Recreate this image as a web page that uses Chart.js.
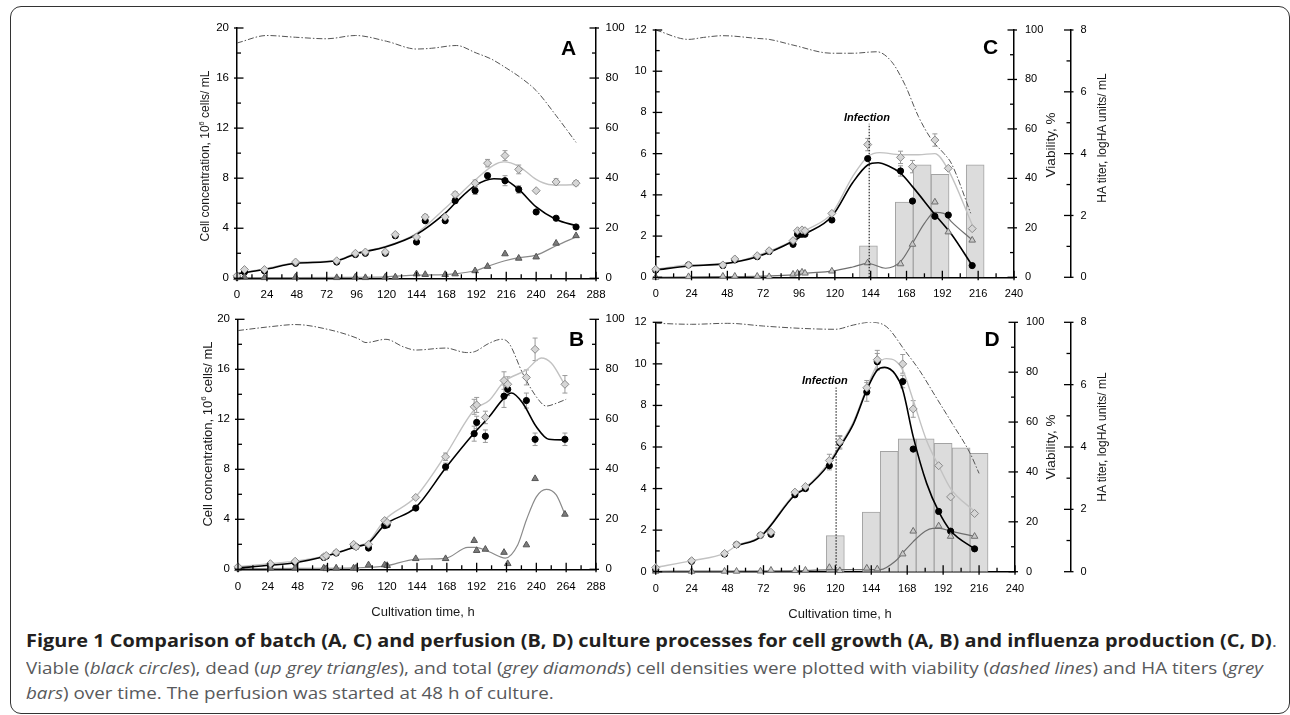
<!DOCTYPE html>
<html><head><meta charset="utf-8">
<script src="https://cdn.jsdelivr.net/npm/chart.js@4.4.1/dist/chart.umd.min.js"></script>
<style>
html,body{margin:0;padding:0;background:#fff;}
#page{position:relative;width:1290px;height:715px;overflow:hidden;background:#fff;font-family:"Liberation Sans",Arial,sans-serif;}
#frame{position:absolute;left:10px;top:6px;width:1280px;height:708px;box-sizing:border-box;border:1.5px solid #333;border-radius:11px;}
canvas{position:absolute;}
.t{position:absolute;white-space:nowrap;line-height:1;color:#1a1a1a;transform:translate(-50%,-50%);}
.rot{transform:translate(-50%,-50%) rotate(-90deg);}
.let{font-weight:bold;font-size:21px;color:#000;}
.cap{position:absolute;left:26px;white-space:nowrap;line-height:1;font-family:"Open Sans","Noto Sans",sans-serif;font-size:17px;transform-origin:0 0;}
sup{font-size:0.62em;line-height:0;position:relative;top:-0.05em;}
</style></head>
<body><div id="page">
<div id="frame"></div>
<canvas id="cA"></canvas><canvas id="cB"></canvas><canvas id="cC"></canvas><canvas id="cD"></canvas>

<div class="t rot" style="left:205px;top:156px;font-size:12px;">Cell concentration, 10<sup>6</sup> cells/ mL</div>
<div class="t rot" style="left:206.5px;top:434px;font-size:13px;">Cell concentration, 10<sup>6</sup> cells/ mL</div>
<div class="t rot" style="left:1050.5px;top:145px;font-size:13.5px;">Viability, %</div>
<div class="t rot" style="left:1101.7px;top:137.5px;font-size:12px;">HA titer, logHA units/ mL</div>
<div class="t rot" style="left:1050.5px;top:447px;font-size:13.5px;">Viability, %</div>
<div class="t rot" style="left:1101.7px;top:437px;font-size:12px;">HA titer, logHA units/ mL</div>
<div class="t" style="left:423px;top:611px;font-size:13px;">Cultivation time, h</div>
<div class="t" style="left:840px;top:612.5px;font-size:13px;">Cultivation time, h</div>
<div class="t let" style="left:568.5px;top:46.5px;">A</div>
<div class="t let" style="left:576.5px;top:337.5px;">B</div>
<div class="t let" style="left:990.5px;top:46px;">C</div>
<div class="t let" style="left:992px;top:337.5px;">D</div>

<div id="cap1" class="cap" style="top:631.9px;"><span style="font-weight:700;color:#231f20;">Figure 1 Comparison of batch (A, C) and perfusion (B, D) culture processes for cell growth (A, B) and influenza production (C, D)</span><span style="color:#58595b;">.</span></div>
<div id="cap2" class="cap" style="top:658.9px;color:#58595b;">Viable (<i>black circles</i>), dead (<i>up grey triangles</i>), and total (<i>grey diamonds</i>) cell densities were plotted with viability (<i>dashed lines</i>) and HA titers (<i>grey</i></div>
<div id="cap3" class="cap" style="top:683.9px;color:#58595b;"><i>bars</i>) over time. The perfusion was started at 48 h of culture.</div>
</div>
<script>
// ---------------- DATA ----------------
// Panel A (batch, cell growth)
const aHours     = [0, 6, 22, 47, 80, 95, 103, 119, 127, 144, 151, 167, 175, 191, 201, 215, 226, 240, 256, 272];
const aTotal     = [0.2, 0.7, 0.7, 1.3, 1.4, 2.0, 2.1, 2.1, 3.5, 3.3, 4.9, 4.9, 6.7, 7.6, 9.2, 9.8, 8.7, 7.0, 7.7, 7.6];
const aTotalErr  = [0, 0, 0, 0, 0, 0, 0, 0, 0, 0, 0.2, 0, 0.2, 0.25, 0.3, 0.4, 0.35, 0, 0.25, 0.2];
const aViable    = [0.1, 0.5, 0.6, 1.2, 1.3, 1.9, 2.0, 2.0, 3.4, 2.9, 4.6, 4.6, 6.2, 7.0, 8.2, 7.8, 7.1, 5.3, 4.8, 4.1];
const aViableErr = [0, 0, 0, 0, 0, 0, 0, 0, 0, 0, 0, 0, 0.2, 0.3, 0.2, 0.4, 0.3, 0, 0, 0];
const aDead      = [0.05, 0.1, 0.05, 0.1, 0.05, 0.1, 0.05, 0.1, 0.1, 0.35, 0.3, 0.3, 0.35, 0.6, 0.95, 1.95, 1.6, 1.7, 2.8, 3.4];
const aFitViableHours = [0, 22, 47, 80, 95, 119, 144, 167, 175, 191, 206, 215, 226, 240, 256, 272];
const aFitViable      = [0.35, 0.7, 1.2, 1.4, 1.95, 2.5, 3.5, 5.2, 6.0, 7.4, 7.95, 7.85, 7.1, 5.7, 4.7, 4.2];
const aFitTotalHours  = [0, 22, 47, 80, 95, 119, 144, 167, 191, 206, 214, 226, 240, 250, 261, 272];
const aFitTotal       = [0.4, 0.75, 1.25, 1.45, 2.0, 2.55, 3.6, 5.6, 7.85, 9.05, 9.3, 8.95, 7.9, 7.5, 7.45, 7.5];
const aFitDeadHours   = [0, 47, 95, 119, 144, 167, 175, 191, 201, 215, 226, 240, 256, 272];
const aFitDead        = [0.05, 0.05, 0.08, 0.12, 0.25, 0.3, 0.35, 0.6, 0.95, 1.4, 1.65, 1.85, 2.6, 3.3];
const aViaHours  = [0, 24, 47, 72, 95, 120, 144, 156, 176, 192, 204, 216, 228, 240, 256, 272];
const aViability = [94, 97, 96.3, 95.7, 97, 94.7, 91.6, 91.9, 93, 90, 87.6, 84, 80, 75, 65, 54.3];

// Panel B (perfusion, cell growth)
const bHours     = [0, 26, 46, 69, 71, 79, 93, 95, 105, 118, 120, 143, 167, 190, 192, 199, 214, 217, 232, 239, 263];
const bTotal     = [0.2, 0.45, 0.65, 1.0, 1.1, 1.35, 2.0, 1.8, 2.0, 3.9, 3.75, 5.75, 9.0, 13.0, 13.15, 12.15, 15.1, 14.8, 15.35, 17.6, 14.8];
const bTotalErr  = [0, 0, 0, 0, 0, 0, 0, 0, 0, 0, 0, 0, 0.3, 0.6, 0.6, 0.5, 0.7, 0.6, 0.6, 0.9, 0.7];
const bViable    = [0.1, 0.35, 0.55, 0.95, 1.05, 1.3, 1.9, 1.8, 1.7, 3.5, 3.55, 4.9, 8.2, 10.85, 11.75, 10.65, 13.85, 14.4, 13.5, 10.4, 10.4];
const bViableErr = [0, 0, 0, 0, 0, 0, 0, 0, 0, 0, 0, 0, 0.3, 0.6, 0.5, 0.5, 0.9, 0.5, 0.6, 0.5, 0.5];
const bDead      = [0.05, 0.1, 0.1, 0.1, 0.05, 0.1, 0.1, 0.1, 0.35, 0.35, 0.3, 0.85, 0.85, 2.3, 1.5, 1.6, 1.35, 0.45, 1.95, 7.25, 4.4];
const bFitViableHours = [0, 26, 46, 69, 95, 105, 118, 143, 167, 190, 202, 214, 220, 229, 240, 250, 263];
const bFitViable      = [0.1, 0.32, 0.53, 1.0, 1.8, 2.1, 3.55, 4.95, 8.1, 10.9, 12.2, 13.7, 14.1, 13.3, 11.4, 10.4, 10.35];
const bFitTotalHours  = [0, 26, 46, 69, 95, 105, 118, 143, 167, 190, 202, 214, 232, 244, 252, 263];
const bFitTotal       = [0.2, 0.45, 0.65, 1.05, 1.85, 2.2, 3.95, 5.8, 9.15, 12.75, 13.5, 15.0, 15.95, 16.9, 16.5, 14.75];
const bFitDeadHours   = [0, 46, 95, 118, 143, 167, 185, 191, 202, 215, 225, 232, 240, 248, 256, 263];
const bFitDead        = [0.05, 0.08, 0.12, 0.25, 0.8, 0.88, 1.75, 1.75, 1.4, 0.9, 1.95, 3.95, 5.8, 6.4, 5.95, 4.4];
const bViaHours  = [0, 27, 46, 72, 96, 103, 119, 133, 143, 167, 184, 190, 202, 212, 218, 229, 240, 248, 256, 264];
const bViability = [95.5, 97.1, 97.9, 96, 92.4, 90.7, 92, 89, 87.7, 88.5, 86.7, 87, 90.4, 92, 90.4, 78.4, 69, 65.3, 66.4, 68];

// Panel C (batch, influenza production)
const cHours     = [0, 22, 45, 53, 68, 76, 92, 95, 98, 100, 118, 142, 164, 172, 187, 196, 212];
const cTotal     = [0.39, 0.6, 0.6, 0.89, 1.05, 1.29, 1.78, 2.26, 2.3, 2.26, 3.1, 6.44, 5.82, 5.37, 6.66, 5.29, 2.36];
const cTotalErr  = [0, 0, 0, 0, 0, 0, 0, 0, 0, 0, 0, 0.3, 0.3, 0.3, 0.3, 0, 0];
const cViable    = [0.35, 0.6, 0.57, 0.84, 1.0, 1.25, 1.6, 2.09, 2.09, 2.09, 2.78, 5.76, 5.16, 3.7, 2.96, 3.02, 0.57];
const cViableErr = [0, 0, 0, 0, 0, 0, 0, 0, 0, 0, 0, 0, 0.25, 0, 0, 0, 0];
const cDead      = [0.0, 0.03, 0.05, 0.05, 0.05, 0.03, 0.15, 0.2, 0.25, 0.2, 0.3, 0.7, 0.65, 1.6, 3.65, 2.2, 1.8];
const cFitViableHours = [0, 22, 45, 68, 92, 100, 118, 132, 142, 149, 156, 164, 172, 187, 198, 212];
const cFitViable      = [0.35, 0.55, 0.65, 1.0, 1.75, 2.1, 2.95, 4.6, 5.45, 5.56, 5.4, 5.05, 4.4, 3.05, 2.1, 0.57];
const cFitTotalHours  = [0, 22, 45, 68, 92, 100, 118, 132, 142, 150, 164, 176, 187, 196, 212];
const cFitTotal       = [0.39, 0.6, 0.65, 1.05, 1.8, 2.25, 3.1, 4.9, 5.85, 6.05, 5.95, 5.95, 6.0, 5.2, 2.55];
const cFitDeadHours   = [0, 45, 92, 100, 118, 132, 142, 154, 164, 172, 180, 187, 193, 198, 212];
const cFitDead        = [0.0, 0.03, 0.12, 0.2, 0.3, 0.5, 0.68, 0.44, 0.76, 1.65, 2.62, 3.15, 3.1, 2.7, 1.81];
const cViaHours  = [0, 22, 32, 45, 68, 76, 92, 118, 132, 148, 158, 167, 176, 185, 193, 198, 211];
const cViability = [100, 96.2, 97, 97.7, 96.6, 96.2, 93.9, 90.6, 90.6, 91.2, 87.2, 77.8, 65, 55.5, 50.1, 46.1, 25.9];
const cBarHours  = [142.5, 166.5, 178.5, 190.5, 214];
const cHaTiter   = [1.02, 2.43, 3.64, 3.33, 3.64];
const cInfection = {hour: 143, top: 7.45, labelHour: 141.5, labelY: 7.75, text: 'Infection'};

// Panel D (perfusion, influenza production)
const dHours     = [0, 24, 46, 54, 70, 77, 93, 100, 116, 123, 141, 148, 165, 172, 189, 197, 213];
const dTotal     = [0.2, 0.53, 0.88, 1.3, 1.76, 1.9, 3.83, 4.1, 5.35, 6.25, 8.85, 10.2, 10.0, 7.83, 5.1, 3.6, 2.8];
const dTotalErr  = [0, 0, 0, 0, 0, 0, 0, 0, 0.3, 0.3, 0.35, 0.45, 0.45, 0.4, 0, 0, 0];
const dViable    = [0.1, 0.5, 0.85, 1.3, 1.75, 1.8, 3.7, 4.0, 5.1, 6.2, 8.65, 10.1, 9.15, 5.9, 2.9, 1.95, 1.1];
const dViableErr = [0, 0, 0, 0, 0, 0, 0, 0, 0.2, 0.3, 0.45, 0.4, 0.3, 0.35, 0, 0, 0];
const dDead      = [0.02, 0.02, 0.02, 0.02, 0.03, 0.07, 0.05, 0.07, 0.2, 0.05, 0.17, 0.13, 0.85, 1.95, 2.2, 1.7, 1.7];
const dFitViableHours = [54, 70, 93, 100, 116, 123, 132, 141, 148, 153, 160, 165, 172, 181, 189, 197, 213];
const dFitViable      = [1.25, 1.68, 3.69, 4.0, 5.2, 6.0, 7.1, 8.75, 9.7, 9.83, 9.5, 8.75, 6.5, 4.25, 2.9, 1.97, 1.1];
const dFitTotalHours  = [0, 24, 46, 54, 70, 93, 100, 116, 123, 132, 141, 148, 154, 160, 165, 172, 181, 189, 197, 213];
const dFitTotal       = [0.2, 0.53, 0.88, 1.25, 1.72, 3.75, 4.05, 5.3, 6.1, 7.2, 8.85, 9.95, 10.25, 10.15, 9.7, 8.25, 6.3, 5.1, 4.0, 2.9];
const dFitDeadHours   = [0, 48, 96, 120, 140, 150, 160, 165, 172, 180, 185, 190, 197, 213];
const dFitDead        = [0.02, 0.03, 0.05, 0.1, 0.1, 0.1, 0.5, 0.9, 1.45, 1.95, 2.08, 2.08, 1.95, 1.7];
const dViaHours  = [0, 24, 48, 72, 96, 120, 132, 143, 154, 167, 176, 187, 198, 210, 216];
const dViability = [99.6, 99.2, 99.6, 98.5, 97.6, 97.2, 98.9, 100, 98.3, 88.2, 80.9, 70.2, 59.5, 47.5, 39.4];
const dBarHours  = [120, 144, 156, 168, 180, 192, 204, 216];
const dHaTiter   = [1.155, 1.91, 3.86, 4.26, 4.26, 4.12, 3.97, 3.80];
const dInfection = {hour: 120.5, top: 8.86, labelHour: 113, labelY: 9.2, text: 'Infection'};

// ---------------- HELPERS ----------------
const FONT = '"Liberation Sans", Arial, sans-serif';
const pts = (xs, ys) => xs.map((x, i) => ({x: x, y: ys[i]}));

function markers(xs, ys, style, errs) {
  const s = {
    circle:  {pointStyle: 'circle',  r: 3.1, bg: '#000', bd: '#000'},
    diamond: {pointStyle: 'rectRot', r: 4,   bg: '#d6d6d6', bd: '#8a8a8a'},
    triDark: {pointStyle: 'triangle', r: 3.8, bg: '#7c7c7c', bd: '#555'},
    triLight:{pointStyle: 'triangle', r: 3.8, bg: '#c9c9c9', bd: '#6e6e6e'}
  }[style];
  return {type: 'line', data: pts(xs, ys), showLine: false, yAxisID: 'y', clip: false,
    pointStyle: s.pointStyle, pointRadius: s.r, pointBackgroundColor: s.bg, pointBorderColor: s.bd,
    pointBorderWidth: 1, errors: errs || null};
}
function fitLine(xs, ys, color, w) {
  return {type: 'line', data: pts(xs, ys), yAxisID: 'y', borderColor: color, borderWidth: w,
    pointRadius: 0, cubicInterpolationMode: 'monotone', fill: false};
}
function viaLine(xs, ys) {
  return {type: 'line', data: pts(xs, ys), yAxisID: 'yV', borderColor: '#555', borderWidth: 1,
    borderDash: [6, 2, 1.5, 2], pointRadius: 0, cubicInterpolationMode: 'monotone', fill: false};
}
function bars(xs, ys) {
  return {type: 'bar', data: pts(xs, ys), yAxisID: 'yHA', xAxisID: 'x', backgroundColor: '#dcdcdc',
    borderColor: '#a3a3a3', borderWidth: 1, barPercentage: 1, categoryPercentage: 1, grouped: false};
}

function axisY(pos, max, step, major, width, pad, fs, weight) {
  return {type: 'linear', position: pos, min: 0, max: max, weight: weight || 0,
    grid: {display: false, drawTicks: false}, border: {display: true, color: '#000', width: 1.5},
    ticks: {stepSize: step, autoSkip: false, padding: pad, color: '#000', font: {family: FONT, size: fs},
      callback: v => (Math.abs(v / major - Math.round(v / major)) < 1e-6 ? String(v) : '')},
    afterFit: s => { s.width = width; }};
}
function axisX(max, height, pad, fs) {
  return {type: 'linear', position: 'bottom', min: 0, max: max, offset: false,
    grid: {display: false, drawTicks: false, offset: false}, border: {display: true, color: '#000', width: 1.5},
    ticks: {stepSize: 12, autoSkip: false, maxRotation: 0, minRotation: 0, padding: pad, color: '#000',
      font: {family: FONT, size: fs}, callback: v => (v % 24 === 0 ? String(v) : '')},
    afterFit: s => { s.height = height; }};
}

const axisTicksPlugin = {
  id: 'axisTicks',
  afterDraw(chart, args, o) {
    const ctx = chart.ctx;
    ctx.save(); ctx.strokeStyle = '#000'; ctx.lineWidth = 1.3;
    Object.keys(o.major).forEach(id => {
      const s = chart.scales[id]; if (!s) return;
      const maj = o.major[id];
      s.ticks.forEach(t => {
        const v = t.value;
        const isMaj = Math.abs(v / maj - Math.round(v / maj)) < 1e-6;
        const p = s.getPixelForValue(v);
        const inL = isMaj ? 6.5 : 4, outL = isMaj ? 3 : 0;
        ctx.beginPath();
        if (s.isHorizontal()) { ctx.moveTo(p, s.top + outL); ctx.lineTo(p, s.top - inL); }
        else if (s.position === 'left') { ctx.moveTo(s.right - outL, p); ctx.lineTo(s.right + inL, p); }
        else { ctx.moveTo(s.left + outL, p); ctx.lineTo(s.left - inL, p); }
        ctx.stroke();
      });
    });
    ctx.restore();
  }
};
const errorBarsPlugin = {
  id: 'errorBars',
  beforeDatasetsDraw(chart) {
    const ctx = chart.ctx;
    chart.data.datasets.forEach((ds, i) => {
      if (!ds.errors) return;
      const meta = chart.getDatasetMeta(i);
      const ys = chart.scales[meta.yAxisID];
      ctx.save(); ctx.strokeStyle = '#9a9a9a'; ctx.lineWidth = 1;
      meta.data.forEach((el, j) => {
        const e = ds.errors[j]; if (!e) return;
        const v = ds.data[j].y;
        const y1 = ys.getPixelForValue(v + e), y2 = ys.getPixelForValue(Math.max(0, v - e));
        ctx.beginPath();
        ctx.moveTo(el.x, y1); ctx.lineTo(el.x, y2);
        ctx.moveTo(el.x - 2.5, y1); ctx.lineTo(el.x + 2.5, y1);
        ctx.moveTo(el.x - 2.5, y2); ctx.lineTo(el.x + 2.5, y2);
        ctx.stroke();
      });
      ctx.restore();
    });
  }
};
const infectionPlugin = {
  id: 'infection',
  afterDatasetsDraw(chart, args, o) {
    if (!o || o.hour == null) return;
    const xs = chart.scales.x, ys = chart.scales.y, ctx = chart.ctx;
    const px = xs.getPixelForValue(o.hour);
    ctx.save();
    ctx.setLineDash([1.5, 1.5]); ctx.strokeStyle = '#000'; ctx.lineWidth = 1;
    ctx.beginPath(); ctx.moveTo(px, ys.getPixelForValue(0)); ctx.lineTo(px, ys.getPixelForValue(o.top)); ctx.stroke();
    ctx.setLineDash([]);
    ctx.font = 'italic bold 11px ' + FONT; ctx.textAlign = 'center'; ctx.textBaseline = 'middle'; ctx.fillStyle = '#000';
    ctx.fillText(o.text, xs.getPixelForValue(o.labelHour), ys.getPixelForValue(o.labelY));
    ctx.restore();
  }
};

function buildPanel(id, g, p) {
  const cv = document.getElementById(id);
  cv.width = g.cw; cv.height = g.ch;
  cv.style.left = g.cx + 'px'; cv.style.top = g.cy + 'px';
  cv.style.width = g.cw + 'px'; cv.style.height = g.ch + 'px';
  const scales = {
    x: axisX(p.xMax, g.ch - (g.B - g.cy), p.xPad, p.fs),
    y: axisY('left', p.yMax, p.yStep, p.yMajor, g.L - g.cx, p.yPad, p.fs, 0),
    yV: axisY('right', 100, 10, 20, g.haX ? g.haX - g.R : g.cw - (g.R - g.cx), p.vPad, p.fs, 0)
  };
  const major = {x: 24, y: p.yMajor, yV: 20};
  if (g.haX) { scales.yHA = axisY('right', 8, 1, 2, g.cw - (g.haX - g.cx), p.hPad, p.fs, 1); major.yHA = 2; }
  new Chart(cv, {
    type: 'line',
    data: {datasets: p.datasets},
    options: {
      responsive: false, animation: false, devicePixelRatio: 1, events: [],
      layout: {padding: {top: g.T - g.cy, left: 0, right: 0, bottom: 0}, autoPadding: false},
      plugins: {legend: {display: false}, tooltip: {enabled: false},
        axisTicks: {major: major}, infection: p.infection || {hour: null}},
      scales: scales
    },
    plugins: [axisTicksPlugin, errorBarsPlugin, infectionPlugin]
  });
}

// dataset order: first listed is drawn on top (diamonds over triangles over circles)
buildPanel('cA', {cx: 180, cy: 10, cw: 450, ch: 300, L: 237, T: 28, R: 596, B: 278.3}, {
  xMax: 288, yMax: 20, yStep: 2, yMajor: 4, fs: 11.5, xPad: 10, yPad: 8, vPad: 9.5,
  datasets: [
    markers(aHours, aTotal, 'diamond', aTotalErr),
    markers(aHours, aDead, 'triDark'),
    markers(aHours, aViable, 'circle', aViableErr),
    fitLine(aFitViableHours, aFitViable, '#000', 1.6),
    fitLine(aFitTotalHours, aFitTotal, '#c2c2c2', 1.4),
    fitLine(aFitDeadHours, aFitDead, '#8a8a8a', 1.2),
    viaLine(aViaHours, aViability)
  ]
});
buildPanel('cB', {cx: 180, cy: 300, cw: 450, ch: 300, L: 238, T: 319.3, R: 596, B: 569.3}, {
  xMax: 288, yMax: 20, yStep: 2, yMajor: 4, fs: 11.5, xPad: 11, yPad: 8, vPad: 9.5,
  datasets: [
    markers(bHours, bTotal, 'diamond', bTotalErr),
    markers(bHours, bDead, 'triDark'),
    markers(bHours, bViable, 'circle', bViableErr),
    fitLine(bFitViableHours, bFitViable, '#000', 1.6),
    fitLine(bFitTotalHours, bFitTotal, '#c2c2c2', 1.4),
    fitLine(bFitDeadHours, bFitDead, '#8a8a8a', 1.2),
    viaLine(bViaHours, bViability)
  ]
});
buildPanel('cC', {cx: 620, cy: 10, cw: 500, ch: 300, L: 655.7, T: 30, R: 1014, B: 277.3, haX: 1070.5}, {
  xMax: 240, yMax: 12, yStep: 1, yMajor: 2, fs: 11, xPad: 10, yPad: 9, vPad: 11, hPad: 10,
  infection: cInfection,
  datasets: [
    markers(cHours, cTotal, 'diamond', cTotalErr),
    markers(cHours, cDead, 'triLight'),
    markers(cHours, cViable, 'circle', cViableErr),
    fitLine(cFitViableHours, cFitViable, '#000', 1.6),
    fitLine(cFitTotalHours, cFitTotal, '#c2c2c2', 1.4),
    fitLine(cFitDeadHours, cFitDead, '#6e6e6e', 1.2),
    viaLine(cViaHours, cViability),
    bars(cBarHours, cHaTiter)
  ]
});
buildPanel('cD', {cx: 620, cy: 300, cw: 500, ch: 300, L: 655.7, T: 322.3, R: 1015, B: 571.7, haX: 1070.5}, {
  xMax: 240, yMax: 12, yStep: 1, yMajor: 2, fs: 11, xPad: 11, yPad: 9, vPad: 11, hPad: 10,
  infection: dInfection,
  datasets: [
    markers(dHours, dTotal, 'diamond', dTotalErr),
    markers(dHours, dDead, 'triLight'),
    markers(dHours, dViable, 'circle', dViableErr),
    fitLine(dFitViableHours, dFitViable, '#000', 1.6),
    fitLine(dFitTotalHours, dFitTotal, '#c2c2c2', 1.4),
    fitLine(dFitDeadHours, dFitDead, '#6e6e6e', 1.2),
    viaLine(dViaHours, dViability),
    bars(dBarHours, dHaTiter)
  ]
});

// caption lines fitted to the reference widths
function fitCaptions() {
  const c1 = document.getElementById('cap1'), c2 = document.getElementById('cap2'), c3 = document.getElementById('cap3');
  const k1 = 1251 / c1.getBoundingClientRect().width;
  const k2 = 1237 / c2.getBoundingClientRect().width;
  c1.style.transform = 'scaleX(' + k1 + ')';
  c2.style.transform = 'scaleX(' + k2 + ')';
  c3.style.transform = 'scaleX(' + k2 + ')';
}
if (document.fonts && document.fonts.ready) { document.fonts.ready.then(fitCaptions); } else { fitCaptions(); }
</script>
</body></html>
